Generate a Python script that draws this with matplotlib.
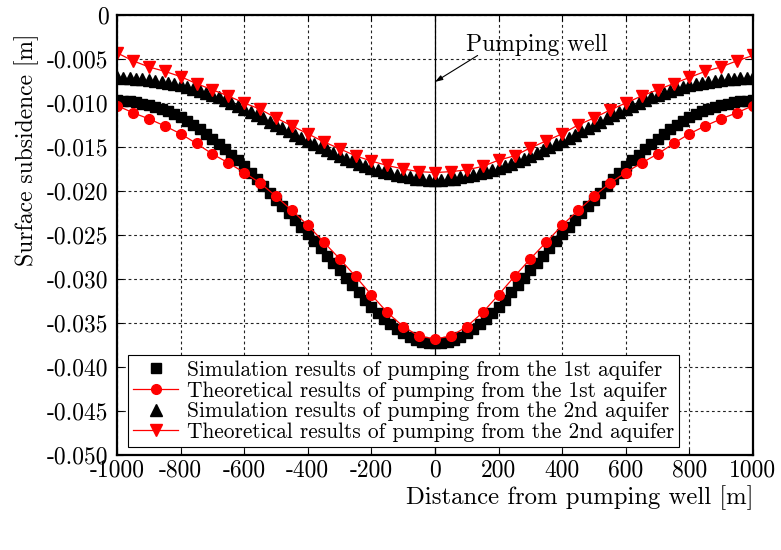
import numpy as np
import matplotlib
matplotlib.use('Agg')
import matplotlib.pyplot as plt
from matplotlib.ticker import FuncFormatter, MultipleLocator

plt.rcParams['font.family'] = 'serif'
plt.rcParams['font.serif'] = ['cmr10', 'DejaVu Serif']
plt.rcParams['mathtext.fontset'] = 'cm'
plt.rcParams['axes.unicode_minus'] = False

# distances from the well [m]
dist_sim = np.arange(-1000, 1001, 20)
dist_theory = np.arange(-1000, 1001, 50)

# simulation, pumping from the 1st aquifer (black squares)
sim_1st = [
    -0.00964, -0.00972, -0.00982, -0.00994, -0.01007, -0.01022, -0.01040, -0.01063, -0.01091, -0.01124,
    -0.01162, -0.01204, -0.01250, -0.01300, -0.01353, -0.01409, -0.01467, -0.01527, -0.01589, -0.01653,
    -0.01719, -0.01793, -0.01868, -0.01944, -0.02021, -0.02099, -0.02175, -0.02252, -0.02330, -0.02409,
    -0.02489, -0.02570, -0.02652, -0.02735, -0.02818, -0.02902, -0.02986, -0.03070, -0.03153, -0.03236,
    -0.03318, -0.03392, -0.03458, -0.03516, -0.03566, -0.03610, -0.03656, -0.03688, -0.03711, -0.03725,
    -0.03730,
    -0.03725, -0.03711, -0.03688, -0.03656, -0.03610, -0.03566, -0.03516, -0.03458, -0.03392, -0.03318,
    -0.03236, -0.03153, -0.03070, -0.02986, -0.02902, -0.02818, -0.02735, -0.02652, -0.02570, -0.02489,
    -0.02409, -0.02330, -0.02252, -0.02175, -0.02099, -0.02021, -0.01944, -0.01868, -0.01793, -0.01719,
    -0.01653, -0.01589, -0.01527, -0.01467, -0.01409, -0.01353, -0.01300, -0.01250, -0.01204, -0.01162,
    -0.01124, -0.01091, -0.01063, -0.01040, -0.01022, -0.01007, -0.00994, -0.00982, -0.00972, -0.00964,
]

# simulation, pumping from the 2nd aquifer (black triangles)
sim_2nd = [
    -0.00710, -0.00714, -0.00719, -0.00725, -0.00732, -0.00740, -0.00748, -0.00758, -0.00770, -0.00784,
    -0.00800, -0.00818, -0.00838, -0.00860, -0.00884, -0.00910, -0.00937, -0.00966, -0.00997, -0.01030,
    -0.01065, -0.01102, -0.01139, -0.01176, -0.01213, -0.01250, -0.01286, -0.01322, -0.01358, -0.01394,
    -0.01430, -0.01465, -0.01499, -0.01533, -0.01567, -0.01600, -0.01631, -0.01660, -0.01688, -0.01715,
    -0.01740, -0.01762, -0.01782, -0.01800, -0.01816, -0.01830, -0.01846, -0.01858, -0.01867, -0.01873,
    -0.01875,
    -0.01873, -0.01867, -0.01858, -0.01846, -0.01830, -0.01816, -0.01800, -0.01782, -0.01762, -0.01740,
    -0.01715, -0.01688, -0.01660, -0.01631, -0.01600, -0.01567, -0.01533, -0.01499, -0.01465, -0.01430,
    -0.01394, -0.01358, -0.01322, -0.01286, -0.01250, -0.01213, -0.01176, -0.01139, -0.01102, -0.01065,
    -0.01030, -0.00997, -0.00966, -0.00937, -0.00910, -0.00884, -0.00860, -0.00838, -0.00818, -0.00800,
    -0.00784, -0.00770, -0.00758, -0.00748, -0.00740, -0.00732, -0.00725, -0.00719, -0.00714, -0.00710,
]

# theory, pumping from the 1st aquifer (red circles)
theory_1st = [
    -0.0103, -0.0111, -0.0118, -0.0126, -0.0135, -0.0146, -0.0158, -0.0168, -0.0179, -0.0191,
    -0.0206, -0.0222, -0.0239, -0.0258, -0.0277, -0.0297, -0.0318, -0.0338, -0.0354, -0.0365,
    -0.0368,
    -0.0365, -0.0354, -0.0338, -0.0318, -0.0297, -0.0277, -0.0258, -0.0239, -0.0222, -0.0206,
    -0.0191, -0.0179, -0.0168, -0.0158, -0.0146, -0.0135, -0.0126, -0.0118, -0.0111, -0.0103,
]

# theory, pumping from the 2nd aquifer (red down triangles)
theory_2nd = [
    -0.0043, -0.0052, -0.0059, -0.0064, -0.0070, -0.0078, -0.0085, -0.0092, -0.0100, -0.0107,
    -0.0117, -0.0126, -0.0135, -0.0144, -0.0152, -0.0160, -0.0166, -0.0171, -0.0175, -0.0178,
    -0.0179,
    -0.0178, -0.0176, -0.0172, -0.0165, -0.0160, -0.0151, -0.0143, -0.0135, -0.0125, -0.0117,
    -0.0108, -0.0100, -0.0092, -0.0085, -0.0078, -0.0071, -0.0064, -0.0059, -0.0052, -0.0046,
]

labels = [
    'Simulation results of pumping from the 1st aquifer',
    'Theoretical results of pumping from the 1st aquifer',
    'Simulation results of pumping from the 2nd aquifer',
    'Theoretical results of pumping from the 2nd aquifer',
]

fig = plt.figure(figsize=(7.81, 5.5), dpi=100)
ax = fig.add_axes([117 / 781, 95 / 550, 636 / 781, 440 / 550])

ax.plot(dist_sim, sim_1st, 's', color='k', ms=7, label=labels[0])
ax.plot(dist_theory, theory_1st, '-o', color='red', ms=7, lw=0.9, label=labels[1])
ax.plot(dist_sim, sim_2nd, '^', color='k', ms=8, label=labels[2])
ax.plot(dist_theory, theory_2nd, '-v', color='red', ms=8.5, lw=0.9, label=labels[3])

ax.axvline(0, color='k', lw=0.9, zorder=1)

# pumping well label and arrow
ax.text(320, -0.0034, 'Pumping well', ha='center', va='center', fontsize=17)
ax.annotate('', xy=(0, -0.0076), xytext=(134, -0.0046),
            arrowprops=dict(arrowstyle='-|>,head_length=0.45,head_width=0.15',
                            color='k', lw=0.8, shrinkA=0, shrinkB=0))

ax.set_xlim(-1000, 1000)
ax.set_ylim(-0.050, 0)
ax.xaxis.set_major_locator(MultipleLocator(200))
ax.yaxis.set_major_locator(MultipleLocator(0.005))
ax.yaxis.set_major_formatter(FuncFormatter(lambda v, p: '0' if abs(v) < 1e-9 else f'{v:.3f}'))
ax.xaxis.set_major_formatter(FuncFormatter(lambda v, p: f'{v:.0f}'))

ax.grid(True, linestyle=(0, (2.5, 2.5)), color='#222222', lw=0.8)
ax.set_axisbelow(True)
ax.tick_params(direction='in', top=True, right=True, length=4, width=0.8,
               labelsize=17)
ax.tick_params(axis='y', pad=6)
ax.tick_params(axis='x', pad=3)
for s in ax.spines.values():
    s.set_linewidth(1.6)

ax.set_xlabel('Distance from pumping well [m]', fontsize=17.8, loc='right', labelpad=3)
ax.set_ylabel('Surface subsidence [m]', fontsize=17)
ax.yaxis.set_label_coords(-0.122, 0.693)

leg = ax.legend(loc='lower left', bbox_to_anchor=(0.017, 0.018), fontsize=15.4,
                fancybox=False, edgecolor='k', framealpha=1, borderpad=0.25,
                labelspacing=0.05, handlelength=2.1, handletextpad=0.4,
                borderaxespad=0)
leg.get_frame().set_linewidth(0.8)

fig.savefig('out.png', dpi=100)
